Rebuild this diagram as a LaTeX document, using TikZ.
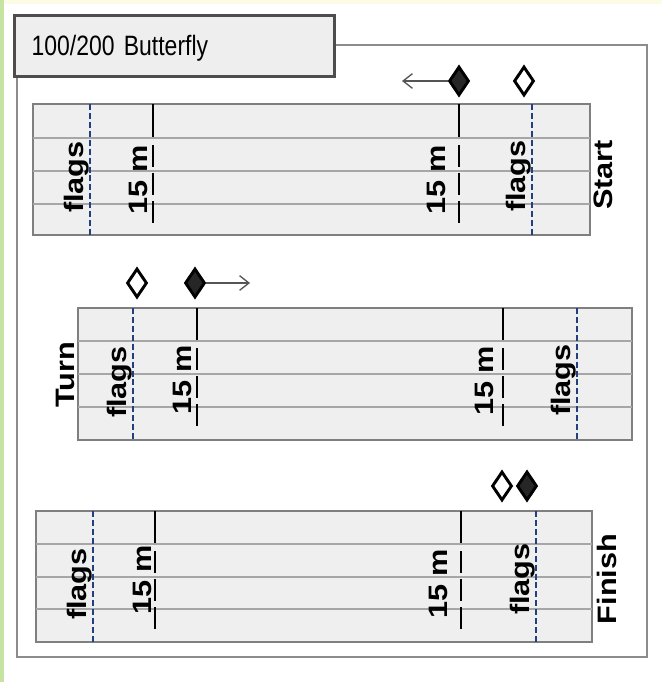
\documentclass[tikz,border=0pt]{standalone}
\usepackage{fontspec}
\newfontfamily\titlefont[FakeStretch=0.82]{Liberation Sans}
\newfontfamily\lanefont[FakeStretch=1.15]{Liberation Sans}
\definecolor{bfPoolFill}{HTML}{EFEFEF}
\definecolor{bfPoolEdge}{HTML}{7F7F7F}
\definecolor{bfLane}{HTML}{A6A6A6}
\definecolor{bfFlag}{HTML}{22407F}
\definecolor{bfFrame}{HTML}{8C8C8C}
\definecolor{bfTitleEdge}{HTML}{4D4D4D}
\definecolor{bfTitleFill}{HTML}{EEEEEE}
\definecolor{bfSwim}{HTML}{262626}
\definecolor{bfArrow}{HTML}{555555}
\definecolor{bfStrip}{HTML}{C6E3A2}
\definecolor{bfTop}{HTML}{FBFBE6}
\usetikzlibrary{arrows.meta,shapes.geometric}

\begin{document}
\begin{tikzpicture}[x=0.75pt,y=-0.75pt,
  pool/.style={draw=bfPoolEdge, line width=1.5pt, fill=bfPoolFill},
  lane/.style={draw=bfLane, line width=1.2pt},
  flagline/.style={draw=bfFlag, line width=1.1pt, dash pattern=on 4.5pt off 2.2pt},
  markline/.style={draw=black, line width=1.9pt},
  markdash/.style={markline, dash pattern=on 16.5pt off 4.5pt},
  marklbl/.style={font=\lanefont\bfseries\fontsize{20}{20}\selectfont, rotate=90, anchor=south, inner sep=0pt},
  endlbl/.style={font=\lanefont\bfseries\fontsize{20}{20}\selectfont, rotate=90, inner sep=0pt},
  swimfull/.style={diamond, draw=black, fill=bfSwim, line width=2.2pt, minimum width=15pt, minimum height=21.75pt, inner sep=0pt},
  swimopen/.style={swimfull, fill=white},
  move/.style={draw=bfArrow, line width=1pt, -{Straight Barb[length=7pt,width=11pt]}}]
  \useasboundingbox (0,0) rectangle (662,682);
  \fill[white] (0,0) rectangle (662,682);
  \fill[bfTop] (0,0) rectangle (662,4);
  \fill[bfStrip] (0,0) rectangle (4,682);

  % outer frame and title tab
  \draw[bfFrame, line width=1.5pt] (17,45) rectangle (647,657);
  \node[draw=bfTitleEdge, fill=bfTitleFill, line width=1.9pt, anchor=north west,
    minimum width=240pt, minimum height=45.75pt, inner xsep=12pt, text width=214pt,
    align=left, text depth=0pt, font=\titlefont\fontsize{21}{21}\selectfont] (title) at (13,14) {100/200 Butterfly};

  % Start pool
  \draw[pool] (33,104) rectangle (590,235);
  \foreach \y in {138,171,204} \draw[lane] (33,\y) -- (590,\y);
  \draw[flagline] (90,104) -- (90,235);
  \draw[flagline] (532,104) -- (532,235);
  \foreach \x in {153,459} {
    \draw[markline] (\x,104) -- (\x,137);
    \draw[markdash] (\x,145) -- (\x,223);
  }
  \node[marklbl] (startFlagsL) at (89,177) {flags};
  \node[marklbl] (startMarkL) at (148,180) {15 m};
  \node[marklbl] (startMarkR) at (446,180) {15 m};
  \node[marklbl] (startFlagsR) at (531,176) {flags};
  \node[endlbl] (startLbl) at (603,175) {Start};
  \node[swimfull] (startFull) at (459,81) {};
  \node[swimopen] (startOpen) at (524,81) {};
  \coordinate (startTo) at (402,81);
  \draw[move] (startFull) -- (startTo);

  % Turn pool
  \draw[pool] (78,308) rectangle (632,440);
  \foreach \y in {341,374,407} \draw[lane] (78,\y) -- (632,\y);
  \draw[flagline] (133,308) -- (133,440);
  \draw[flagline] (577,308) -- (577,440);
  \foreach \x in {197,503} {
    \draw[markline] (\x,308) -- (\x,340);
    \draw[markdash] (\x,348) -- (\x,426);
  }
  \node[marklbl] (turnFlagsL) at (132,382) {flags};
  \node[marklbl] (turnMarkL) at (192,380) {15 m};
  \node[marklbl] (turnMarkR) at (494,381) {15 m};
  \node[marklbl] (turnFlagsR) at (576,380) {flags};
  \node[endlbl] (turnLbl) at (65,375) {Turn};
  \node[swimopen] (turnOpen) at (137,283) {};
  \node[swimfull] (turnFull) at (195,283) {};
  \coordinate (turnTo) at (250,283);
  \draw[move] (turnFull) -- (turnTo);

  % Finish pool
  \draw[pool] (36,511) rectangle (592,642);
  \foreach \y in {544,577,609} \draw[lane] (36,\y) -- (592,\y);
  \draw[flagline] (93,511) -- (93,642);
  \draw[flagline] (536,511) -- (536,642);
  \foreach \x in {155,461} {
    \draw[markline] (\x,511) -- (\x,543);
    \draw[markdash] (\x,551) -- (\x,629);
  }
  \node[marklbl] (finishFlagsL) at (92,584) {flags};
  \node[marklbl] (finishMarkL) at (152,580) {15 m};
  \node[marklbl] (finishMarkR) at (448,584) {15 m};
  \node[marklbl] (finishFlagsR) at (535,579) {flags};
  \node[endlbl] (finishLbl) at (607,579) {Finish};
  \node[swimopen] (finishOpen) at (502,486) {};
  \node[swimfull] (finishFull) at (527,486) {};
\end{tikzpicture}
\end{document}
